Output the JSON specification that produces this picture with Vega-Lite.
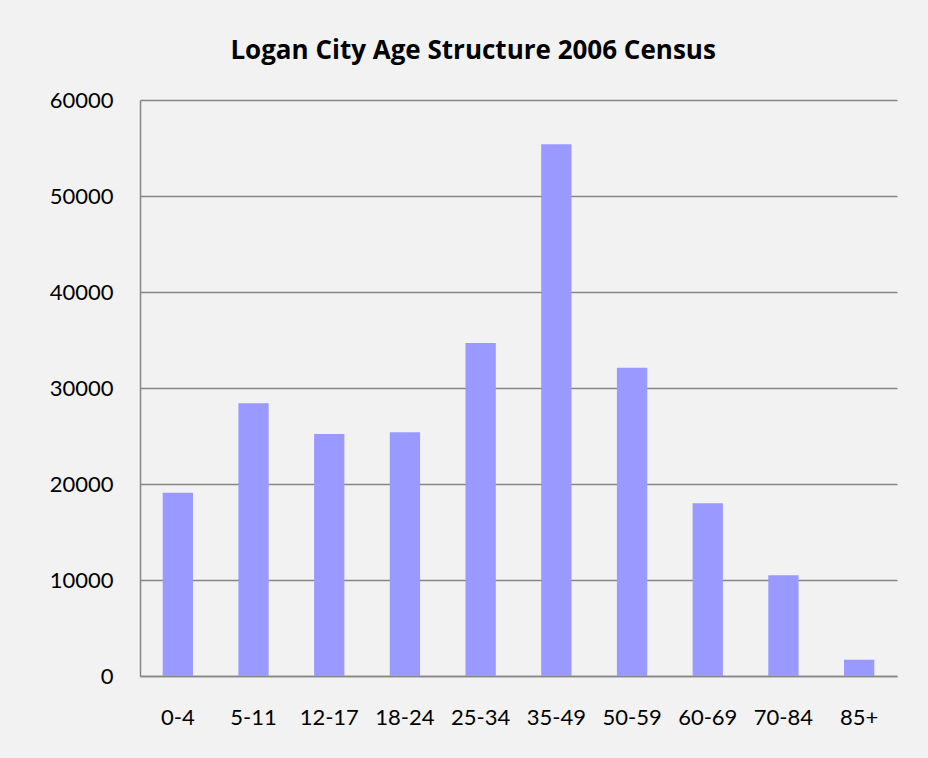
{
  "$schema": "https://vega.github.io/schema/vega-lite/v6.json",
  "width": 757,
  "height": 576,
  "autosize": {"type": "none"},
  "padding": {"left": 140, "top": 100, "right": 31, "bottom": 82},
  "background": "#f2f2f2",
  "title": {
    "text": "Logan City Age Structure 2006 Census",
    "font": "Open Sans",
    "fontSize": 26,
    "fontWeight": "bold",
    "color": "#000000",
    "anchor": "middle",
    "frame": "bounds",
    "baseline": "alphabetic",
    "offset": 4
  },
  "data": {
    "values": [
      {"age": "0-4", "population": 19100},
      {"age": "5-11", "population": 28400},
      {"age": "12-17", "population": 25200},
      {"age": "18-24", "population": 25400},
      {"age": "25-34", "population": 34700},
      {"age": "35-49", "population": 55400},
      {"age": "50-59", "population": 32100},
      {"age": "60-69", "population": 18000},
      {"age": "70-84", "population": 10500},
      {"age": "85+", "population": 1700}
    ]
  },
  "mark": {"type": "bar", "color": "#9999ff", "width": {"band": 0.4}},
  "encoding": {
    "x": {
      "field": "age",
      "type": "nominal",
      "sort": null,
      "scale": {"paddingInner": 0, "paddingOuter": 0},
      "axis": {
        "title": null,
        "labelAngle": 0,
        "labelFont": "Lato",
        "labelFontSize": 22,
        "labelColor": "#000000",
        "labelPadding": 31,
        "ticks": false,
        "domainColor": "#868686",
        "domainWidth": 1.5,
        "grid": false
      }
    },
    "y": {
      "field": "population",
      "type": "quantitative",
      "scale": {"domain": [0, 60000], "nice": false},
      "axis": {
        "title": null,
        "values": [0, 10000, 20000, 30000, 40000, 50000, 60000],
        "format": "d",
        "labelFont": "Lato",
        "labelFontSize": 22,
        "labelColor": "#000000",
        "labelPadding": 27,
        "ticks": false,
        "domainColor": "#868686",
        "domainWidth": 1.5,
        "gridColor": "#868686",
        "gridWidth": 1.5
      }
    }
  },
  "config": {
    "view": {"stroke": null}
  }
}
